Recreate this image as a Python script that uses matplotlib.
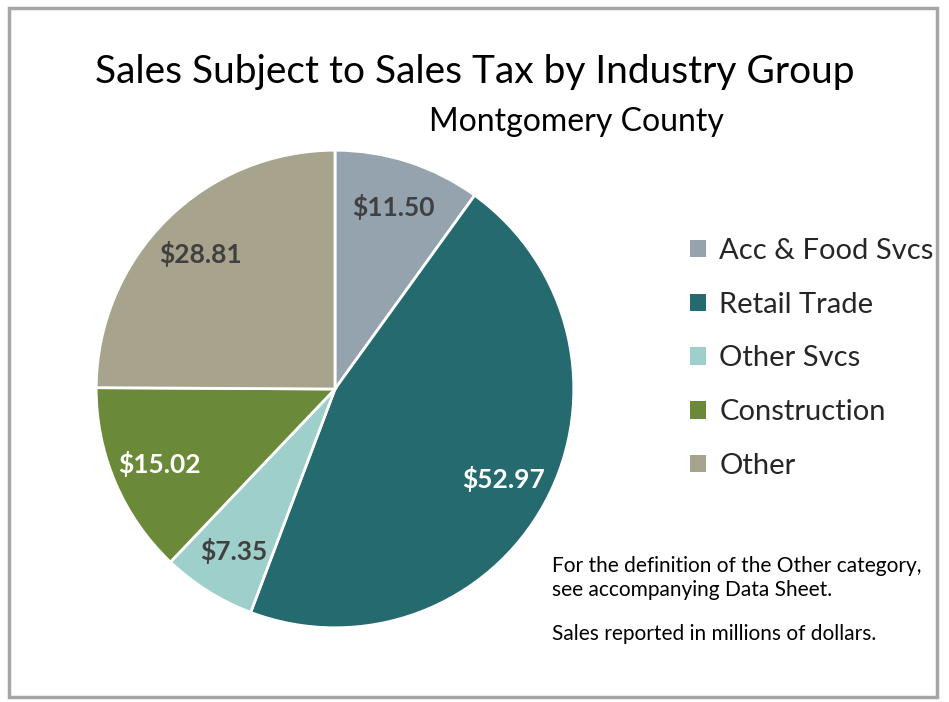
import matplotlib
matplotlib.use("Agg")
import matplotlib.pyplot as plt
from matplotlib.patches import Rectangle

plt.rcParams['font.family'] = ['Lato', 'DejaVu Sans']

categories = ["Acc & Food Svcs", "Retail Trade", "Other Svcs", "Construction", "Other"]
values = [11.50, 52.97, 7.35, 15.02, 28.81]
colors = ["#95A3AF", "#256A6E", "#9ECFCB", "#6A8A3A", "#A8A38D"]
label_colors = ["#404040", "white", "#404040", "white", "#404040"]

W, H = 949, 702
fig = plt.figure(figsize=(W / 100, H / 100), dpi=100)
fig.patch.set_facecolor("white")

# outer frame
fig.patches.append(Rectangle((9 / W, 5 / H), 928 / W, 689 / H, transform=fig.transFigure,
                             fill=False, edgecolor="#A6A6A6", linewidth=2.5))

cx, cy, r = 335, 389, 240
ax = fig.add_axes([(cx - r) / W, 1 - (cy + r) / H, 2 * r / W, 2 * r / H])
wedges, texts, autotexts = ax.pie(values, colors=colors, startangle=90, counterclock=False,
                                  autopct="%1.1f", pctdistance=0.8, radius=1,
                                  wedgeprops=dict(edgecolor="white", linewidth=2))
for t, v, c in zip(autotexts, values, label_colors):
    t.set_text(f"${v:.2f}")
    t.set_color(c)
    t.set_fontsize(19)
    t.set_fontweight("bold")
ax.set_xlim(-1.005, 1.005)
ax.set_ylim(-1.005, 1.005)
ax.set_aspect("equal")
ax.axis("off")

fig.text(475 / W, 1 - 72 / H, "Sales Subject to Sales Tax by Industry Group",
         ha="center", va="center", fontsize=28, color="black")
fig.text(576 / W, 1 - 122 / H, "Montgomery County",
         ha="center", va="center", fontsize=23, color="black")

leg = fig.legend(wedges, categories, loc="upper left", bbox_to_anchor=(690 / W, 1 - 238 / H),
                 frameon=False, fontsize=21, handlelength=0.55, handleheight=0.55,
                 handletextpad=0.45, labelspacing=0.95, borderpad=0, borderaxespad=0)
for txt in leg.get_texts():
    txt.set_color("#262626")
for h in leg.legend_handles:
    h.set_edgecolor("none")

note_lines = ["For the definition of the Other category,", "see accompanying Data Sheet.",
              "Sales reported in millions of dollars."]
for line, y in zip(note_lines, [566, 590, 634]):
    fig.text(552 / W, 1 - y / H, line, ha="left", va="center", fontsize=15, color="black")

fig.savefig("out.png", dpi=100, facecolor="white")
